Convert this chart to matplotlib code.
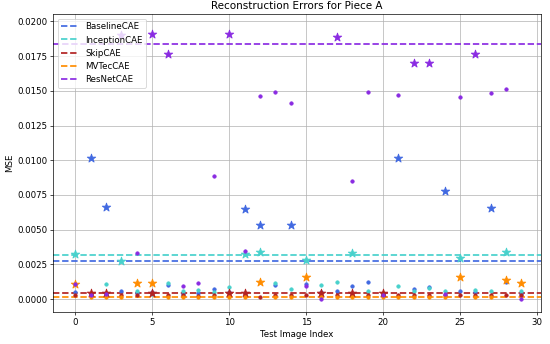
import numpy as np
import matplotlib
matplotlib.use("Agg")
import matplotlib.pyplot as plt

# MSE por imagem de teste (indices 0..29) para cada modelo
image_idx = list(range(30))
model_names = ["BaselineCAE", "InceptionCAE", "SkipCAE", "MVTecCAE", "ResNetCAE"]
model_colors = ["royalblue", "mediumturquoise", "firebrick", "darkorange", "blueviolet"]

baseline_mse = [0.00053, 0.01014, 0.00660, 0.00060, 0.00045, 0.00050, 0.00100, 0.00040,
                0.00045, 0.00070, 0.00050, 0.00646, 0.00533, 0.00100, 0.00533, 0.00106,
                0.00050, 0.00058, 0.00098, 0.00122, 0.00030, 0.01014, 0.00070, 0.00089,
                0.00780, 0.00060, 0.00050, 0.00658, 0.00120, 0.00040]
inception_mse = [0.00324, 0.00040, 0.00106, 0.00278, 0.00060, 0.00040, 0.00118, 0.00060,
                 0.00065, 0.00050, 0.00084, 0.00325, 0.00343, 0.00118, 0.00072, 0.00279,
                 0.00100, 0.00120, 0.00329, 0.00058, 0.00040, 0.00098, 0.00060, 0.00080,
                 0.00060, 0.00293, 0.00065, 0.00060, 0.00343, 0.00060]
skip_mse = [0.00030, 0.00046, 0.00045, 0.00029, 0.00030, 0.00047, 0.00031, 0.00030,
            0.00026, 0.00030, 0.00046, 0.00047, 0.00017, 0.00030, 0.00029, 0.00030,
            0.00046, 0.00030, 0.00045, 0.00031, 0.00046, 0.00030, 0.00029, 0.00030,
            0.00031, 0.00030, 0.00029, 0.00030, 0.00032, 0.00030]
mvtec_mse = [0.00108, 0.00014, 0.00017, 0.00017, 0.00113, 0.00118, 0.00014, 0.00015,
             0.00014, 0.00015, 0.00017, 0.00015, 0.00120, 0.00014, 0.00015, 0.00157,
             0.00015, 0.00014, 0.00016, 0.00015, 0.00014, 0.00015, 0.00014, 0.00016,
             0.00015, 0.00156, 0.00014, 0.00015, 0.00137, 0.00114]
resnet_mse = [0.00110, 0.00030, 0.00040, 0.01900, 0.00329, 0.01910, 0.01763, 0.00094,
              0.00113, 0.00884, 0.01908, 0.00346, 0.01460, 0.01490, 0.01414, 0.00094,
              0.00002, 0.01885, 0.00850, 0.01489, 0.00030, 0.01470, 0.01702, 0.01701,
              0.00040, 0.01455, 0.01763, 0.01488, 0.01515, 0.00002]

# limiar (linha tracejada) de cada modelo
thresholds = [0.00272, 0.00315, 0.00043, 0.00019, 0.01835]

top_k = 8  # as maiores k reconstrucoes sao marcadas com estrela

all_mse = [baseline_mse, inception_mse, skip_mse, mvtec_mse, resnet_mse]

# figura "padrao" reduzida: dpi baixo para caber em 550x344
dpi = 62
fig = plt.figure(figsize=(550 / dpi, 344 / dpi), dpi=dpi)
ax = fig.add_axes([0.097, 0.094, 0.886, 0.864])

x = np.array(image_idx)
for name, color, vals, thr in zip(model_names, model_colors, all_mse, thresholds):
    vals = np.array(vals)
    top = np.argsort(vals)[-top_k:]
    rest = np.setdiff1d(np.arange(len(vals)), top)
    ax.scatter(x[rest], vals[rest], color=color, s=15, zorder=3)
    ax.scatter(x[top], vals[top], color=color, marker="*", s=105, zorder=3)
    ax.axhline(thr, color=color, linestyle="--", linewidth=2.0, label=name)

ax.set_xlim(-1.43, 30.25)
ax.set_ylim(-0.0009, 0.0205)
ax.grid(True)
ax.set_title("Reconstruction Errors for Piece A")
ax.set_xlabel("Test Image Index")
ax.set_ylabel("MSE")
ax.legend(loc="upper left")

fig.savefig("out.png", dpi=dpi)
